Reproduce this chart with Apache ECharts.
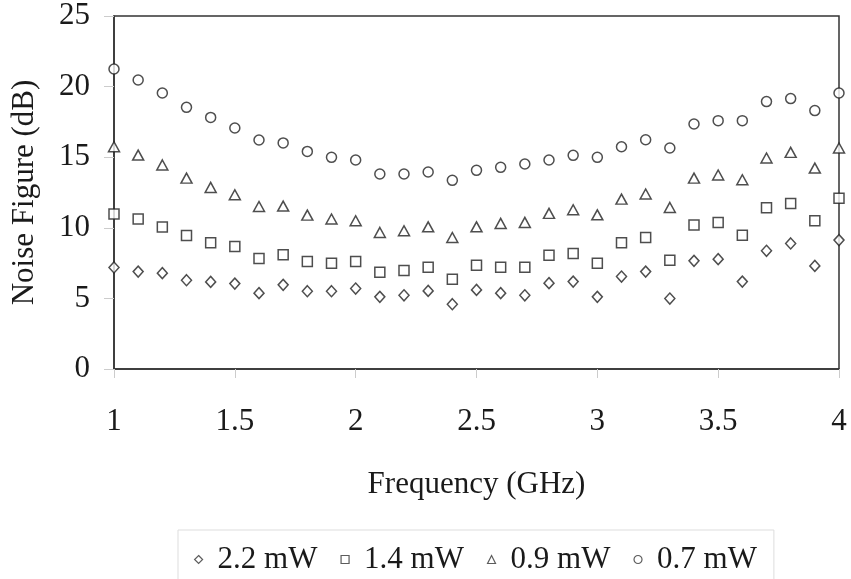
<!DOCTYPE html>
<html>
<head>
<meta charset="utf-8">
<script src="https://cdn.jsdelivr.net/npm/echarts@6/dist/echarts.min.js"></script>
<style>
  html, body { margin: 0; padding: 0; background: #fff; }
  #chart { width: 851px; height: 579px; }
</style>
</head>
<body>
<div id="chart"></div>
<script>
// frequency points (GHz)
const freq = [1.0, 1.1, 1.2, 1.3, 1.4, 1.5, 1.6, 1.7, 1.8, 1.9,
  2.0, 2.1, 2.2, 2.3, 2.4, 2.5, 2.6, 2.7, 2.8, 2.9,
  3.0, 3.1, 3.2, 3.3, 3.4, 3.5, 3.6, 3.7, 3.8, 3.9, 4.0];

// noise figure (dB) per bias power
const nf22 = [7.19, 6.9, 6.79, 6.29, 6.17, 6.05, 5.37, 5.96, 5.51, 5.51,
  5.7, 5.11, 5.22, 5.53, 4.59, 5.6, 5.37, 5.22, 6.08, 6.19,
  5.11, 6.55, 6.9, 4.99, 7.66, 7.78, 6.19, 8.37, 8.89, 7.3, 9.13];
const nf14 = [10.97, 10.62, 10.05, 9.46, 8.94, 8.68, 7.82, 8.09, 7.61, 7.49,
  7.61, 6.86, 6.97, 7.21, 6.36, 7.35, 7.21, 7.21, 8.06, 8.18,
  7.49, 8.94, 9.31, 7.71, 10.19, 10.38, 9.48, 11.42, 11.72, 10.5, 12.1];
const nf09 = [15.74, 15.15, 14.45, 13.52, 12.86, 12.34, 11.51, 11.54, 10.9, 10.62,
  10.5, 9.67, 9.79, 10.07, 9.31, 10.07, 10.31, 10.38, 11.02, 11.28,
  10.92, 12.03, 12.39, 11.44, 13.52, 13.74, 13.4, 14.94, 15.34, 14.23, 15.65];
const nf07 = [21.25, 20.47, 19.55, 18.53, 17.82, 17.07, 16.22, 16.01, 15.41, 14.99,
  14.8, 13.81, 13.81, 13.95, 13.36, 14.07, 14.28, 14.52, 14.8, 15.13,
  14.99, 15.74, 16.24, 15.65, 17.35, 17.59, 17.59, 18.94, 19.15, 18.3, 19.55];

const seriesNames = ['2.2 mW', '1.4 mW', '0.9 mW', '0.7 mW'];
const seriesData = [nf22, nf14, nf09, nf07];
const seriesSymbols = ['diamond', 'rect', 'triangle', 'circle'];

const font = 'Liberation Serif, Times New Roman, serif';
const ink = '#1a1a1a';

const chart = echarts.init(document.getElementById('chart'));

const series = seriesNames.map(function (name, k) {
  return {
    name: name,
    type: 'scatter',
    symbol: seriesSymbols[k],
    symbolSize: k === 0 ? [10, 11] : (k === 2 ? [11, 10] : 10),
    itemStyle: { color: '#fff', borderColor: '#222', borderWidth: 1.5 },
    data: freq.map(function (f, i) { return [f, seriesData[k][i]]; }),
    z: 5
  };
});

chart.setOption({
  backgroundColor: '#fff',
  animation: false,
  grid: {
    left: 114, right: 12, top: 16, bottom: 210,
    show: true, borderColor: '#333', borderWidth: 1.5
  },
  legend: {
    data: seriesNames,
    left: 178, top: 530,
    padding: [14, 17, 14, 16],
    borderColor: '#ddd', borderWidth: 1,
    itemWidth: 8, itemHeight: 8, itemGap: 23,
    itemStyle: { color: '#fff', borderColor: '#333', borderWidth: 1.2 },
    textStyle: { fontFamily: font, fontSize: 31, color: ink, padding: [0, 0, 0, 10] }
  },
  xAxis: {
    type: 'value',
    min: 1, max: 4, interval: 0.5,
    name: 'Frequency (GHz)',
    nameLocation: 'middle',
    nameGap: 100,
    nameTextStyle: { fontFamily: font, fontSize: 31, color: ink },
    axisLine: { show: true, lineStyle: { color: '#333', width: 1.5 } },
    axisTick: { show: true, length: 9, lineStyle: { color: '#ccc' } },
    axisLabel: { margin: 37, fontFamily: font, fontSize: 31, color: ink },
    splitLine: { show: false }
  },
  yAxis: {
    type: 'value',
    min: 0, max: 25, interval: 5,
    name: 'Noise Figure (dB)',
    nameLocation: 'middle',
    nameGap: 74,
    nameTextStyle: { fontFamily: font, fontSize: 31, color: ink },
    axisLine: { show: true, lineStyle: { color: '#333', width: 1.5 } },
    axisTick: { show: true, length: 10, lineStyle: { color: '#ccc' } },
    axisLabel: { margin: 24, fontFamily: font, fontSize: 31, color: ink },
    splitLine: { show: false }
  },
  series: series
});
</script>
</body>
</html>
